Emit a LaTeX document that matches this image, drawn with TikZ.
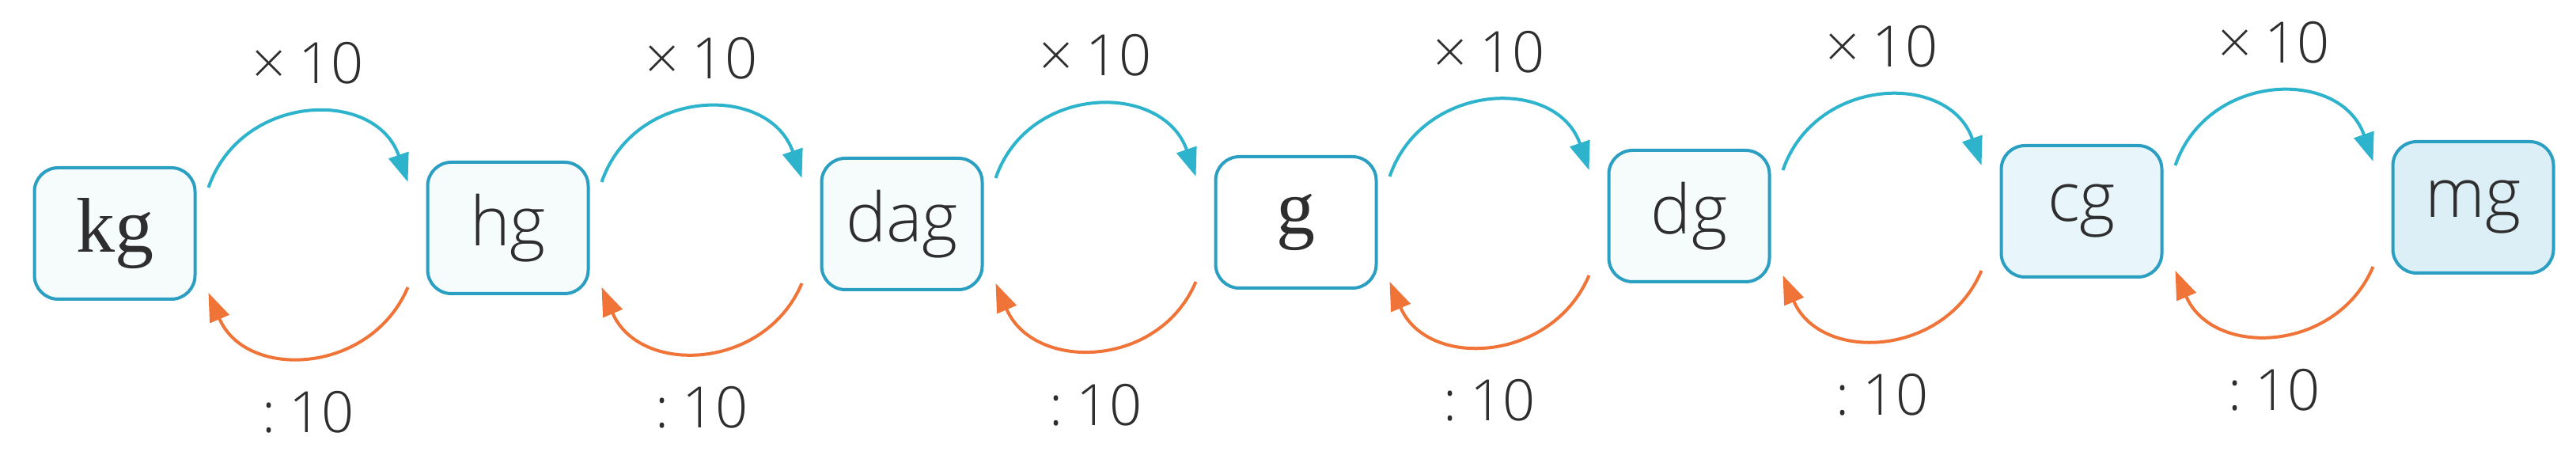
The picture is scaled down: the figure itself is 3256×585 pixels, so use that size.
\documentclass[tikz,border=0pt]{standalone}
\usepackage{fontspec}
\IfFontExistsTF{Open Sans Light}{\setsansfont{Open Sans Light}}{%
  \IfFontExistsTF{Fira Sans Light}{\setsansfont{Fira Sans Light}}{\setsansfont{Open Sans}}}
\setmainfont{Liberation Serif}
\usetikzlibrary{arrows.meta}
\definecolor{boxline}{HTML}{2A9FC2}
\definecolor{arcblue}{HTML}{2DB3CC}
\definecolor{arcorange}{HTML}{F07438}
\definecolor{txt}{HTML}{2E2E2E}
\definecolor{fillA}{HTML}{F6FBFC}
\definecolor{fillB}{HTML}{E8F5FA}
\definecolor{fillC}{HTML}{DCEEF6}
\begin{document}
\begin{tikzpicture}[x=1pt,y=1pt,
 unit/.style={draw=boxline, line width=4pt, rounded corners=30pt, minimum width=203pt, minimum height=166pt, inner sep=0pt, text=txt, font=\sffamily\fontsize{86}{100}\selectfont},
 serifunit/.style={unit, font=\rmfamily\fontsize{98}{110}\selectfont},
 mularc/.style={draw=arcblue, line width=4pt, -{Triangle[length=36pt,width=26pt]}, out=71, in=109, looseness=1.28},
 divarc/.style={draw=arcorange, line width=4pt, -{Triangle[length=36pt,width=26pt]}, out=-113, in=-67, looseness=1.22},
 oplabel/.style={text=txt, font=\sffamily\fontsize{72}{88}\selectfont, inner sep=0pt}
]
\useasboundingbox (0,0) rectangle (3256,585);
\fill[white] (0,0) rectangle (3256,585);
\node[serifunit, fill=fillA] (kg)  at (145,290)  {\raisebox{-8pt}{kg}};
\node[unit, fill=fillA]      (hg)  at (642,297)  {\raisebox{-8pt}{hg}};
\node[unit, fill=fillA]      (dag) at (1140,302) {\raisebox{-8pt}{dag}};
\node[serifunit, fill=white] (g)   at (1638,304) {\raisebox{-8pt}{g}};
\node[unit, fill=fillA]      (dg)  at (2135,312) {\raisebox{-8pt}{dg}};
\node[unit, fill=fillB]      (cg)  at (2631,318) {\raisebox{-8pt}{cg}};
\node[unit, fill=fillC]      (mg)  at (3126,323) {\raisebox{-8pt}{mg}};
\foreach \a/\b in {kg/hg, hg/dag, dag/g, g/dg, dg/cg, cg/mg}{
  \draw[mularc] ([xshift=15pt,yshift=58pt]\a.east) to node[oplabel, yshift=64pt]{×\hspace{17pt}10} ([xshift=-23pt,yshift=58pt]\b.west);
  \draw[divarc] ([xshift=-23pt,yshift=-75pt]\b.west) to node[oplabel, yshift=-71pt]{:\hspace{17pt}10} ([xshift=15pt,yshift=-75pt]\a.east);
}
\end{tikzpicture}
\end{document}
